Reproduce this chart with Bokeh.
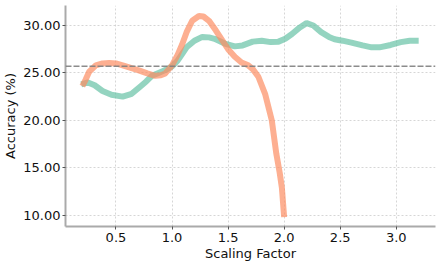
from bokeh.plotting import figure
from bokeh.models import Range1d, FixedTicker, NumeralTickFormatter, Span
from bokeh.embed import file_html
from bokeh.resources import INLINE

# Data
green_x = [0.19, 0.25, 0.31, 0.38, 0.46, 0.56, 0.64, 0.71, 0.77, 0.82, 0.88, 0.94,
           1.00, 1.05, 1.09, 1.13, 1.20, 1.27, 1.33, 1.38, 1.47, 1.56, 1.63, 1.72,
           1.80, 1.88, 1.95, 2.01, 2.07, 2.14, 2.20, 2.26, 2.33, 2.40, 2.45, 2.52,
           2.60, 2.70, 2.78, 2.85, 2.95, 3.04, 3.12, 3.20]
green_y = [23.8, 24.0, 23.7, 23.1, 22.7, 22.5, 22.8, 23.5, 24.1, 24.7, 25.0, 25.3,
           25.7, 26.3, 27.0, 27.7, 28.4, 28.8, 28.75, 28.6, 28.1, 27.8, 27.9, 28.3,
           28.4, 28.25, 28.3, 28.6, 29.1, 29.8, 30.25, 30.0, 29.3, 28.8, 28.55, 28.4,
           28.2, 27.9, 27.7, 27.7, 27.95, 28.25, 28.4, 28.4]

orange_x = [0.20, 0.23, 0.26, 0.32, 0.38, 0.44, 0.50, 0.56, 0.64, 0.71, 0.78, 0.85,
            0.90, 0.94, 1.00, 1.05, 1.09, 1.13, 1.18, 1.24, 1.28, 1.33, 1.39, 1.45,
            1.50, 1.56, 1.62, 1.68, 1.72, 1.77, 1.83, 1.89, 1.93, 1.96, 1.98, 2.00]
orange_y = [23.6, 24.3, 25.1, 25.8, 26.0, 26.05, 26.0, 25.8, 25.5, 25.25, 24.95, 24.7,
            24.75, 24.95, 25.8, 26.9, 28.0, 29.3, 30.5, 31.0, 30.95, 30.5, 29.5, 28.4,
            27.5, 26.7, 26.1, 25.8, 25.4, 24.6, 22.8, 20.0, 16.5, 14.5, 12.9, 9.8]

baseline = 25.7
x_ticks = [0.5, 1.0, 1.5, 2.0, 2.5, 3.0]
y_ticks = [10, 15, 20, 25, 30]

p = figure(width=439, height=264, output_backend="svg", toolbar_location=None,
           x_range=Range1d(0.05, 3.35), y_range=Range1d(8.81, 32.11),
           min_border_left=63, min_border_right=4, min_border_top=5, min_border_bottom=38)
p.outline_line_color = None

p.line(green_x, green_y, line_color="#66c2a5", line_alpha=0.7, line_width=6)
p.line(orange_x, orange_y, line_color="#fc8d62", line_alpha=0.7, line_width=6)

p.add_layout(Span(location=baseline, dimension="width", line_color="#808080",
                  line_width=1.5, line_dash="6 2", line_alpha=0.9))

for ax in (p.xaxis, p.yaxis):
    ax.axis_line_color = "#aaaaaa"
    ax.axis_line_width = 2
    ax.major_tick_line_color = "#555555"
    ax.major_tick_out = 3
    ax.major_tick_in = 0
    ax.minor_tick_out = 0
    ax.minor_tick_in = 0
    ax.major_label_text_font = "DejaVu Sans"
    ax.major_label_text_font_size = "13px"
    ax.major_label_text_color = "#111111"
    ax.axis_label_text_font = "DejaVu Sans"
    ax.axis_label_text_font_size = "13px"
    ax.axis_label_text_font_style = "normal"
    ax.axis_label_text_color = "#111111"

p.xaxis.ticker = FixedTicker(ticks=x_ticks)
p.yaxis.ticker = FixedTicker(ticks=y_ticks)
p.xaxis.formatter = NumeralTickFormatter(format="0.0")
p.yaxis.formatter = NumeralTickFormatter(format="0.00")
p.xaxis.axis_label = "Scaling Factor"
p.yaxis.axis_label = "Accuracy (%)"
p.xaxis.axis_label_standoff = 1
p.yaxis.axis_label_standoff = 2
p.xaxis.major_label_standoff = 3
p.yaxis.major_label_standoff = 2

for g in (p.xgrid, p.ygrid):
    g.grid_line_color = "#cccccc"
    g.grid_line_dash = "2 2"
    g.grid_line_width = 0.8

open("out.html", "w").write(file_html(p, INLINE))
